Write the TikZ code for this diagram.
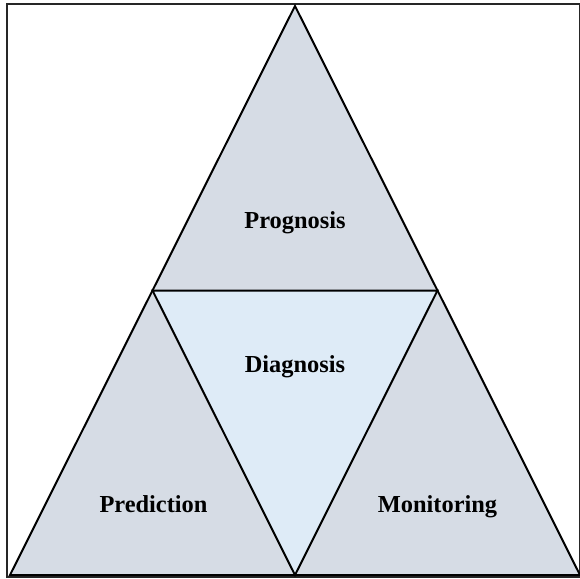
\documentclass[tikz,border=0pt]{standalone}
\usepackage{fontspec}
\setmainfont{Liberation Serif}
\usetikzlibrary{positioning,calc}
\definecolor{outerfill}{HTML}{D6DCE5}
\definecolor{innerfill}{HTML}{DEEBF7}

\begin{document}
\begin{tikzpicture}[x=0.5pt,y=-0.5pt,
part/.style={draw=black,line width=1pt,line join=miter},
label/.style={font=\fontsize{12.2}{14}\selectfont\bfseries,inner sep=0pt,anchor=base}]
\useasboundingbox (0,0) rectangle (580,579);
\draw[line width=1pt,draw=black!85] (7,4) rectangle (579.5,577);
\coordinate (top) at (295,6);
\coordinate (bl) at (10,575);
\coordinate (br) at (580,575);
\coordinate (ml) at ($(top)!0.5!(bl)$);
\coordinate (mr) at ($(top)!0.5!(br)$);
\coordinate (mb) at ($(bl)!0.5!(br)$);
\fill[outerfill] (top)--(bl)--(br)--cycle;
\fill[innerfill] (ml)--(mr)--(mb)--cycle;
\draw[part] (top)--(bl)--(br)--cycle;
\draw[part] (ml)--(mr)--(mb)--cycle;
\node[label] (prognosis) at (295,228) {Prognosis};
\node[label] (diagnosis) at (295,372) {Diagnosis};
\node[label] (prediction) at (153.5,512) {Prediction};
\node[label] (monitoring) at (437.5,512) {Monitoring};
\end{tikzpicture}
\end{document}
